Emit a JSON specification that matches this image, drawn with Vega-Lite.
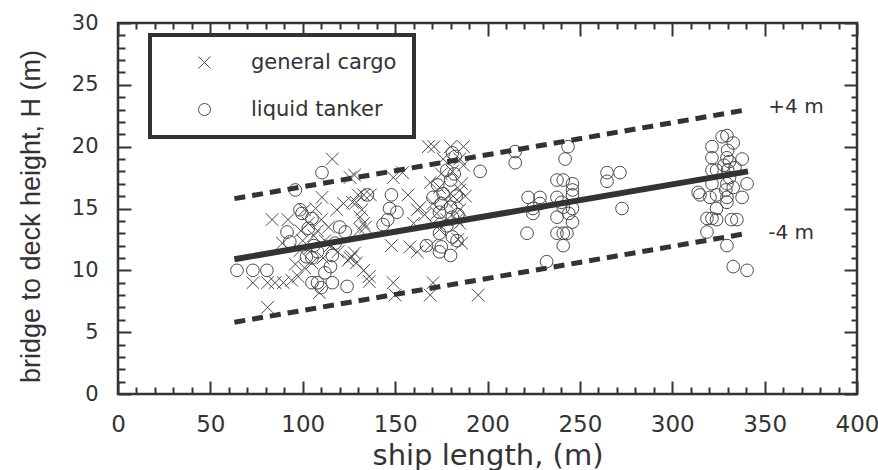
{
"$schema": "https://vega.github.io/schema/vega-lite/v6.json",
"width": 739, "height": 371,
"autosize": {"type": "none"},
"padding": {"left": 118, "top": 23, "right": 21, "bottom": 76},
"background": "white",
"config": {
  "view": {"stroke": "#333", "strokeWidth": 2.5},
  "axis": {"domain": false, "grid": false, "tickColor": "#333", "tickWidth": 2, "labelColor": "#333", "titleColor": "#333", "labelFont": "DejaVu Sans", "titleFont": "DejaVu Sans", "titleFontWeight": "normal"},
  "legend": {"strokeWidth": 4}
},
"datasets": {
  "fit": [{"length": 63, "height": 10.9}, {"length": 341, "height": 18.0}],
  "bounds": [{"series": "upper", "length": 63, "height": 15.8}, {"series": "upper", "length": 341, "height": 23.0}, {"series": "lower", "length": 63, "height": 5.8}, {"series": "lower", "length": 341, "height": 13.0}],
  "notes": [{"label": "+4 m", "length": 352, "height": 23.2}, {"label": "-4 m", "length": 352, "height": 13.0}],
  "pts": [
    {"type": "general cargo", "length": 116, "height": 19.0},
    {"type": "general cargo", "length": 125.6, "height": 17.5},
    {"type": "general cargo", "length": 110.4, "height": 15.9},
    {"type": "general cargo", "length": 83.4, "height": 14.1},
    {"type": "general cargo", "length": 92, "height": 14.1},
    {"type": "general cargo", "length": 101, "height": 14.9},
    {"type": "general cargo", "length": 103, "height": 13.8},
    {"type": "general cargo", "length": 110, "height": 14.1},
    {"type": "general cargo", "length": 114, "height": 13.5},
    {"type": "general cargo", "length": 118.5, "height": 14.9},
    {"type": "general cargo", "length": 89, "height": 12.2},
    {"type": "general cargo", "length": 100, "height": 12.4},
    {"type": "general cargo", "length": 98.5, "height": 11.6},
    {"type": "general cargo", "length": 112, "height": 12.4},
    {"type": "general cargo", "length": 124.5, "height": 10.8},
    {"type": "general cargo", "length": 73, "height": 9.0},
    {"type": "general cargo", "length": 81, "height": 9.0},
    {"type": "general cargo", "length": 85, "height": 9.0},
    {"type": "general cargo", "length": 89.5, "height": 9.0},
    {"type": "general cargo", "length": 94, "height": 9.2},
    {"type": "general cargo", "length": 97.5, "height": 9.5},
    {"type": "general cargo", "length": 101, "height": 10.2},
    {"type": "general cargo", "length": 105, "height": 10.6},
    {"type": "general cargo", "length": 109, "height": 8.2},
    {"type": "general cargo", "length": 81, "height": 7.0},
    {"type": "general cargo", "length": 122, "height": 15.4},
    {"type": "general cargo", "length": 127, "height": 15.5},
    {"type": "general cargo", "length": 126.6, "height": 11.1},
    {"type": "general cargo", "length": 106, "height": 12.8},
    {"type": "general cargo", "length": 108, "height": 13.2},
    {"type": "general cargo", "length": 104, "height": 11.8},
    {"type": "general cargo", "length": 96, "height": 10.5},
    {"type": "general cargo", "length": 115, "height": 12.0},
    {"type": "general cargo", "length": 119, "height": 11.5},
    {"type": "general cargo", "length": 111, "height": 11.0},
    {"type": "general cargo", "length": 107, "height": 15.0},
    {"type": "general cargo", "length": 99, "height": 13.2},
    {"type": "general cargo", "length": 128, "height": 17.7},
    {"type": "general cargo", "length": 149, "height": 17.5},
    {"type": "general cargo", "length": 154, "height": 17.9},
    {"type": "general cargo", "length": 130, "height": 16.1},
    {"type": "general cargo", "length": 133, "height": 16.1},
    {"type": "general cargo", "length": 136.6, "height": 16.1},
    {"type": "general cargo", "length": 157, "height": 16.1},
    {"type": "general cargo", "length": 129, "height": 15.5},
    {"type": "general cargo", "length": 132, "height": 14.9},
    {"type": "general cargo", "length": 131, "height": 14.3},
    {"type": "general cargo", "length": 133, "height": 13.8},
    {"type": "general cargo", "length": 131, "height": 13.3},
    {"type": "general cargo", "length": 134, "height": 13.5},
    {"type": "general cargo", "length": 160, "height": 13.8},
    {"type": "general cargo", "length": 148, "height": 12.0},
    {"type": "general cargo", "length": 158, "height": 11.9},
    {"type": "general cargo", "length": 162, "height": 11.5},
    {"type": "general cargo", "length": 169, "height": 12.0},
    {"type": "general cargo", "length": 125.6, "height": 11.0},
    {"type": "general cargo", "length": 129, "height": 10.6},
    {"type": "general cargo", "length": 133, "height": 10.0},
    {"type": "general cargo", "length": 136, "height": 9.5},
    {"type": "general cargo", "length": 136, "height": 9.1},
    {"type": "general cargo", "length": 149, "height": 9.0},
    {"type": "general cargo", "length": 150, "height": 8.0},
    {"type": "general cargo", "length": 170.5, "height": 9.0},
    {"type": "general cargo", "length": 169, "height": 8.0},
    {"type": "general cargo", "length": 195, "height": 8.0},
    {"type": "general cargo", "length": 128, "height": 11.4},
    {"type": "general cargo", "length": 168, "height": 20.0},
    {"type": "general cargo", "length": 171, "height": 20.0},
    {"type": "general cargo", "length": 180, "height": 20.0},
    {"type": "general cargo", "length": 187, "height": 20.0},
    {"type": "general cargo", "length": 169, "height": 17.1},
    {"type": "general cargo", "length": 174, "height": 16.7},
    {"type": "general cargo", "length": 180, "height": 16.2},
    {"type": "general cargo", "length": 185, "height": 16.5},
    {"type": "general cargo", "length": 183.5, "height": 15.7},
    {"type": "general cargo", "length": 170.5, "height": 15.4},
    {"type": "general cargo", "length": 163.5, "height": 15.1},
    {"type": "general cargo", "length": 162, "height": 14.9},
    {"type": "general cargo", "length": 166, "height": 14.5},
    {"type": "general cargo", "length": 172.6, "height": 14.6},
    {"type": "general cargo", "length": 185, "height": 14.9},
    {"type": "general cargo", "length": 178, "height": 14.1},
    {"type": "general cargo", "length": 183.5, "height": 14.1},
    {"type": "general cargo", "length": 185, "height": 13.8},
    {"type": "general cargo", "length": 170.5, "height": 13.8},
    {"type": "general cargo", "length": 174, "height": 13.3},
    {"type": "general cargo", "length": 176, "height": 19.0},
    {"type": "general cargo", "length": 185, "height": 19.0},
    {"type": "general cargo", "length": 181, "height": 18.0},
    {"type": "general cargo", "length": 187, "height": 18.5},
    {"type": "general cargo", "length": 175, "height": 17.8},
    {"type": "general cargo", "length": 186, "height": 17.0},
    {"type": "general cargo", "length": 184, "height": 12.5},
    {"type": "general cargo", "length": 186, "height": 12.2},
    {"type": "general cargo", "length": 178, "height": 15.5},
    {"type": "general cargo", "length": 188, "height": 16.0},
    {"type": "liquid tanker", "length": 64.4, "height": 10.0},
    {"type": "liquid tanker", "length": 73, "height": 10.0},
    {"type": "liquid tanker", "length": 80.6, "height": 10.0},
    {"type": "liquid tanker", "length": 110.4, "height": 17.9},
    {"type": "liquid tanker", "length": 96, "height": 16.5},
    {"type": "liquid tanker", "length": 99.6, "height": 14.6},
    {"type": "liquid tanker", "length": 105, "height": 14.2},
    {"type": "liquid tanker", "length": 91.5, "height": 13.1},
    {"type": "liquid tanker", "length": 93, "height": 12.3},
    {"type": "liquid tanker", "length": 102, "height": 11.1},
    {"type": "liquid tanker", "length": 105, "height": 11.0},
    {"type": "liquid tanker", "length": 116, "height": 11.2},
    {"type": "liquid tanker", "length": 123, "height": 13.1},
    {"type": "liquid tanker", "length": 105, "height": 9.0},
    {"type": "liquid tanker", "length": 108, "height": 9.0},
    {"type": "liquid tanker", "length": 110, "height": 8.6},
    {"type": "liquid tanker", "length": 116, "height": 9.0},
    {"type": "liquid tanker", "length": 124, "height": 8.7},
    {"type": "liquid tanker", "length": 112, "height": 9.8},
    {"type": "liquid tanker", "length": 98.5, "height": 14.9},
    {"type": "liquid tanker", "length": 103, "height": 13.4},
    {"type": "liquid tanker", "length": 106, "height": 12.0},
    {"type": "liquid tanker", "length": 115, "height": 10.3},
    {"type": "liquid tanker", "length": 120, "height": 13.5},
    {"type": "liquid tanker", "length": 117.5, "height": 12.2},
    {"type": "liquid tanker", "length": 108, "height": 11.5},
    {"type": "liquid tanker", "length": 135, "height": 16.1},
    {"type": "liquid tanker", "length": 148, "height": 16.1},
    {"type": "liquid tanker", "length": 147, "height": 15.0},
    {"type": "liquid tanker", "length": 151, "height": 14.7},
    {"type": "liquid tanker", "length": 146, "height": 14.1},
    {"type": "liquid tanker", "length": 143.5, "height": 13.7},
    {"type": "liquid tanker", "length": 167, "height": 12.0},
    {"type": "liquid tanker", "length": 181, "height": 19.5},
    {"type": "liquid tanker", "length": 182.5, "height": 19.2},
    {"type": "liquid tanker", "length": 170.5, "height": 15.9},
    {"type": "liquid tanker", "length": 173, "height": 16.9},
    {"type": "liquid tanker", "length": 180, "height": 17.3},
    {"type": "liquid tanker", "length": 178, "height": 18.1},
    {"type": "liquid tanker", "length": 175, "height": 15.4},
    {"type": "liquid tanker", "length": 180, "height": 15.1},
    {"type": "liquid tanker", "length": 174, "height": 14.7},
    {"type": "liquid tanker", "length": 181, "height": 14.3},
    {"type": "liquid tanker", "length": 174, "height": 13.0},
    {"type": "liquid tanker", "length": 181, "height": 12.7},
    {"type": "liquid tanker", "length": 183.5, "height": 12.4},
    {"type": "liquid tanker", "length": 175, "height": 11.9},
    {"type": "liquid tanker", "length": 180, "height": 11.2},
    {"type": "liquid tanker", "length": 174, "height": 11.5},
    {"type": "liquid tanker", "length": 176, "height": 16.2},
    {"type": "liquid tanker", "length": 183, "height": 16.0},
    {"type": "liquid tanker", "length": 178, "height": 13.6},
    {"type": "liquid tanker", "length": 184, "height": 14.5},
    {"type": "liquid tanker", "length": 182, "height": 17.8},
    {"type": "liquid tanker", "length": 196, "height": 18.0},
    {"type": "liquid tanker", "length": 215, "height": 19.6},
    {"type": "liquid tanker", "length": 215, "height": 18.7},
    {"type": "liquid tanker", "length": 243.6, "height": 20.0},
    {"type": "liquid tanker", "length": 242, "height": 19.0},
    {"type": "liquid tanker", "length": 237.6, "height": 17.3},
    {"type": "liquid tanker", "length": 241, "height": 17.3},
    {"type": "liquid tanker", "length": 246, "height": 17.0},
    {"type": "liquid tanker", "length": 246, "height": 16.5},
    {"type": "liquid tanker", "length": 222, "height": 15.9},
    {"type": "liquid tanker", "length": 228.4, "height": 15.9},
    {"type": "liquid tanker", "length": 237.6, "height": 15.9},
    {"type": "liquid tanker", "length": 246, "height": 16.1},
    {"type": "liquid tanker", "length": 228.4, "height": 15.4},
    {"type": "liquid tanker", "length": 224.6, "height": 15.0},
    {"type": "liquid tanker", "length": 224.6, "height": 14.6},
    {"type": "liquid tanker", "length": 241, "height": 15.1},
    {"type": "liquid tanker", "length": 246, "height": 15.0},
    {"type": "liquid tanker", "length": 237.6, "height": 14.3},
    {"type": "liquid tanker", "length": 246, "height": 13.9},
    {"type": "liquid tanker", "length": 221.4, "height": 13.0},
    {"type": "liquid tanker", "length": 237.6, "height": 13.0},
    {"type": "liquid tanker", "length": 241, "height": 13.0},
    {"type": "liquid tanker", "length": 243, "height": 13.0},
    {"type": "liquid tanker", "length": 241, "height": 12.0},
    {"type": "liquid tanker", "length": 232, "height": 10.7},
    {"type": "liquid tanker", "length": 264.7, "height": 17.9},
    {"type": "liquid tanker", "length": 271.7, "height": 17.9},
    {"type": "liquid tanker", "length": 264.7, "height": 17.2},
    {"type": "liquid tanker", "length": 272.8, "height": 15.0},
    {"type": "liquid tanker", "length": 240, "height": 15.5},
    {"type": "liquid tanker", "length": 244, "height": 14.6},
    {"type": "liquid tanker", "length": 329.6, "height": 20.9},
    {"type": "liquid tanker", "length": 333, "height": 20.3},
    {"type": "liquid tanker", "length": 321.5, "height": 20.0},
    {"type": "liquid tanker", "length": 330, "height": 19.7},
    {"type": "liquid tanker", "length": 321.5, "height": 19.1},
    {"type": "liquid tanker", "length": 329.6, "height": 19.1},
    {"type": "liquid tanker", "length": 337.8, "height": 19.0},
    {"type": "liquid tanker", "length": 321.5, "height": 18.1},
    {"type": "liquid tanker", "length": 324, "height": 18.1},
    {"type": "liquid tanker", "length": 330, "height": 18.1},
    {"type": "liquid tanker", "length": 334, "height": 18.3},
    {"type": "liquid tanker", "length": 314, "height": 16.3},
    {"type": "liquid tanker", "length": 321.5, "height": 17.0},
    {"type": "liquid tanker", "length": 329.6, "height": 17.0},
    {"type": "liquid tanker", "length": 333, "height": 16.7},
    {"type": "liquid tanker", "length": 340.5, "height": 17.0},
    {"type": "liquid tanker", "length": 315, "height": 16.1},
    {"type": "liquid tanker", "length": 320.4, "height": 15.9},
    {"type": "liquid tanker", "length": 324, "height": 16.1},
    {"type": "liquid tanker", "length": 329.6, "height": 15.9},
    {"type": "liquid tanker", "length": 337.8, "height": 15.9},
    {"type": "liquid tanker", "length": 329.6, "height": 15.5},
    {"type": "liquid tanker", "length": 324, "height": 15.0},
    {"type": "liquid tanker", "length": 318.8, "height": 14.2},
    {"type": "liquid tanker", "length": 321.5, "height": 14.2},
    {"type": "liquid tanker", "length": 324, "height": 14.1},
    {"type": "liquid tanker", "length": 332, "height": 14.1},
    {"type": "liquid tanker", "length": 335, "height": 14.1},
    {"type": "liquid tanker", "length": 318.8, "height": 13.1},
    {"type": "liquid tanker", "length": 329.6, "height": 12.0},
    {"type": "liquid tanker", "length": 333, "height": 10.3},
    {"type": "liquid tanker", "length": 340.5, "height": 10.0},
    {"type": "liquid tanker", "length": 329, "height": 16.5},
    {"type": "liquid tanker", "length": 331, "height": 17.5},
    {"type": "liquid tanker", "length": 328, "height": 18.5},
    {"type": "liquid tanker", "length": 327, "height": 20.8},
    {"type": "liquid tanker", "length": 331, "height": 18.8}
  ]
},
"resolve": {"axis": {"x": "independent", "y": "independent"}},
"layer": [
  {
    "encoding": {
      "x": {"field": "length", "type": "quantitative", "scale": {"domain": [0, 400], "nice": false, "zero": false},
        "axis": {"orient": "bottom", "values": [0,10,20,30,40,50,60,70,80,90,100,110,120,130,140,150,160,170,180,190,200,210,220,230,240,250,260,270,280,290,300,310,320,330,340,350,360,370,380,390,400],
          "labelExpr": "datum.value % 50 === 0 ? datum.label : ''",
          "tickSize": {"condition": {"test": "datum.value % 50 === 0", "value": -13}, "value": -7},
          "labelPadding": 32, "labelFontSize": 23, "labelFlush": false, "labelOverlap": false,
          "title": "ship length, (m)", "titleFontSize": 29, "titleY": 70, "titleBaseline": "alphabetic"}},
      "y": {"field": "height", "type": "quantitative", "scale": {"domain": [0, 30], "nice": false, "zero": false},
        "axis": {"orient": "left", "values": [0,1,2,3,4,5,6,7,8,9,10,11,12,13,14,15,16,17,18,19,20,21,22,23,24,25,26,27,28,29,30],
          "labelExpr": "datum.value % 5 === 0 ? datum.label : ''",
          "tickSize": {"condition": {"test": "datum.value % 5 === 0", "value": -13}, "value": -7},
          "labelPadding": 33, "labelFontSize": 21, "labelFlush": false, "labelOverlap": false,
          "title": "bridge to deck height, H (m)", "titleFont": "Liberation Sans", "titleFontSize": 27, "titleX": -79, "titleY": 193, "titleBaseline": "alphabetic"}}
    },
    "layer": [
      {"data": {"name": "pts"},
       "mark": {"type": "point", "filled": false, "strokeWidth": 1, "color": "#4a4a4a", "size": 160, "opacity": 1},
       "encoding": {"shape": {"field": "type", "type": "nominal",
          "scale": {"domain": ["general cargo", "liquid tanker"], "range": ["M-1,-1L1,1M-1,1L1,-1", "circle"]},
          "legend": {"title": null, "orient": "none", "legendX": 32, "legendY": 12, "padding": 17, "strokeColor": "#333", "fillColor": "white",
            "symbolSize": 144, "symbolOffset": 27, "labelOffset": 36, "labelFontSize": 21, "labelFont": "DejaVu Sans", "labelColor": "#333",
            "symbolStrokeColor": "#4a4a4a", "symbolStrokeWidth": 1, "symbolFillColor": "transparent", "rowPadding": 25}}}},
      {"data": {"name": "bounds"},
       "mark": {"type": "line", "strokeDash": [11, 7], "strokeWidth": 5, "color": "#333"},
       "encoding": {"detail": {"field": "series", "type": "nominal"}}},
      {"data": {"name": "notes"},
       "mark": {"type": "text", "align": "left", "baseline": "middle", "font": "DejaVu Sans", "fontSize": 20, "color": "#333"},
       "encoding": {"text": {"field": "label", "type": "nominal"}}}
    ]
  },
  {
    "data": {"name": "fit"},
    "mark": {"type": "line", "strokeWidth": 6, "color": "#333"},
    "encoding": {
      "x": {"field": "length", "type": "quantitative", "scale": {"domain": [0, 400], "nice": false, "zero": false},
        "axis": {"orient": "top", "values": [0,10,20,30,40,50,60,70,80,90,100,110,120,130,140,150,160,170,180,190,200,210,220,230,240,250,260,270,280,290,300,310,320,330,340,350,360,370,380,390,400],
          "labels": false, "title": null,
          "tickSize": {"condition": {"test": "datum.value % 50 === 0", "value": -13}, "value": -6}}},
      "y": {"field": "height", "type": "quantitative", "scale": {"domain": [0, 30], "nice": false, "zero": false},
        "axis": {"orient": "right", "values": [0,1,2,3,4,5,6,7,8,9,10,11,12,13,14,15,16,17,18,19,20,21,22,23,24,25,26,27,28,29,30],
          "labels": false, "title": null,
          "tickSize": {"condition": {"test": "datum.value % 5 === 0", "value": -13}, "value": -6}}}
    }
  }
]
}
